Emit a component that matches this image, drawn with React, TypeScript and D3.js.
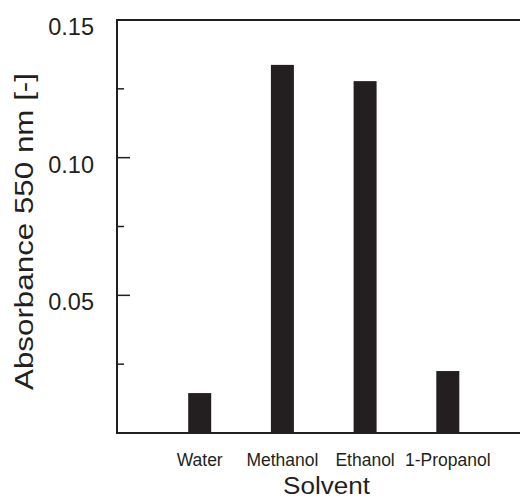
import React from 'react';
import * as d3 from 'd3';

const solvents = ['Water', 'Methanol', 'Ethanol', '1-Propanol'];
const absorbance = [0.0145, 0.1337, 0.1278, 0.0225];
const majorTicks = [0.05, 0.1, 0.15];
const minorTicks = [0.025, 0.075, 0.125];
const tickLabels = ['0.05', '0.10', '0.15'];

const W = 520;
const H = 499;
const left = 117;
const top = 20;
const bottom = 433;
const ink = '#231f20';
const font = '"Liberation Sans", Arial, Helvetica, sans-serif';

const App: React.FC = () => {
  const y = d3.scaleLinear().domain([0, 0.15]).range([bottom, top]);
  // point scale leaves an empty slot on both sides, like the original
  const x = d3.scalePoint<string>().domain(solvents).range([left, 530.5]).padding(1);
  const barW = 23;

  return (
    <svg width={W} height={H} style={{ position: 'absolute', left: 0, top: 0, background: '#fff' }}>
      {solvents.map((s, i) => (
        <rect
          key={s}
          x={(x(s) as number) - barW / 2}
          y={y(absorbance[i])}
          width={barW}
          height={y(0) - y(absorbance[i])}
          fill={ink}
        />
      ))}

      {/* frame: left, top and bottom lines */}
      <line x1={left} x2={left} y1={top - 1} y2={bottom + 1} stroke={ink} strokeWidth={2} />
      <line x1={left} x2={W} y1={top} y2={top} stroke={ink} strokeWidth={2} />
      <line x1={left} x2={W} y1={bottom} y2={bottom} stroke={ink} strokeWidth={2} />

      {majorTicks.map(t => (
        <line key={'M' + t} x1={left} x2={left + 13} y1={y(t)} y2={y(t)} stroke={ink} strokeWidth={1.5} />
      ))}
      {minorTicks.map(t => (
        <line key={'m' + t} x1={left} x2={left + 7} y1={y(t)} y2={y(t)} stroke={ink} strokeWidth={1.5} />
      ))}

      {majorTicks.map((t, i) => (
        <text
          key={'l' + t}
          x={94}
          y={y(t) + 15}
          textAnchor="end"
          fontFamily={font}
          fontSize={23.5}
          fill={ink}
        >
          {tickLabels[i]}
        </text>
      ))}

      {solvents.map(s => (
        <text
          key={'c' + s}
          x={x(s) as number}
          y={466}
          textAnchor="middle"
          fontFamily={font}
          fontSize={17.5}
          fill={ink}
        >
          {s}
        </text>
      ))}

      <text
        x={326.5}
        y={494}
        textAnchor="middle"
        fontFamily={font}
        fontSize={23}
        fill={ink}
        textLength={87}
        lengthAdjust="spacingAndGlyphs"
      >
        Solvent
      </text>

      <text
        transform={`translate(33, 231.5) rotate(-90)`}
        textAnchor="middle"
        fontFamily={font}
        fontSize={25}
        fill={ink}
        textLength={317}
        lengthAdjust="spacingAndGlyphs"
      >
        Absorbance 550 nm [-]
      </text>
    </svg>
  );
};

export default App;
